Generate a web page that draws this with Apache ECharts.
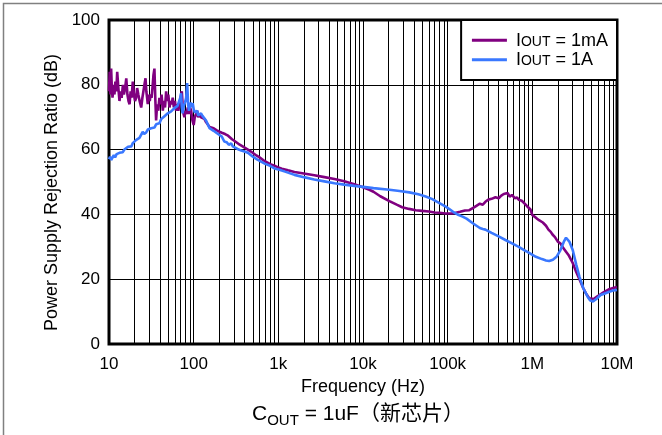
<!DOCTYPE html>
<html>
<head>
<meta charset="utf-8">
<script src="https://cdn.jsdelivr.net/npm/echarts@6/dist/echarts.min.js"></script>
<style>
html,body{margin:0;padding:0;background:#fff;}
#chart{width:662px;height:435px;}
</style>
</head>
<body>
<div id="chart"></div>
<script>
// ---- data (frequency in Hz, PSRR in dB) ----
const xTickLabels = ['10', '100', '1k', '10k', '100k', '1M', '10M'];
const yTicks = [0, 20, 40, 60, 80, 100];
const minorMultipliers = [2, 3, 4, 5, 6, 7, 8, 9];
const decades = [10, 100, 1000, 10000, 100000, 1000000];

const iout1mA = [
[10,78],[10.2,84],[10.4,77],[10.6,85],[10.8,79],[11,76],[11.3,80],[11.6,77],[11.9,81],[12.2,78],[12.5,84],[12.9,79],[13.3,75],[13.7,78],[14.1,76],[14.6,80],[15,77],[15.5,79],[16,82],[16.5,77],[17,75],[17.5,74],[18,78],[18.5,76],[19.1,81],[19.7,77],[20.3,75],[20.9,76],[21.5,79],[22.2,77],[23,75],[24,73],[24.8,76],[25.5,78],[26.2,80],[27,82],[27.6,78],[28.2,76],[28.7,74],[29.5,77],[30.3,75],[31,77],[31.8,76],[32.6,79],[33.5,83],[34.4,85],[35.2,76],[36,69],[37,74],[38.2,72],[39.4,76],[40.6,74],[41.8,77],[43.2,72],[44.5,75],[45.9,73],[47.3,78],[48.7,75],[50.2,77],[51.8,73],[53.4,75],[55,74],[56.6,76],[58.3,73],[60.1,75],[62,72],[63.9,74],[65.9,72],[67.9,74],[70.1,76],[72.4,78],[74.5,73],[76,71],[77.8,70],[79.8,72],[82.5,71],[85.2,73],[88,71],[90.6,73],[93.3,72],[96.7,69],[100,67.6],[103,70],[106.7,71],[110,72],[113,70],[117,71],[122,70],[128,70.5],[134,69.5],[140,68.5],[147,68],[154,67],[162,66.8],[172,66.6],[185,66],[202,65.5],[215,65.2],[235,64.8],[255,64.3],[284,63.2],[310,62.5],[350,61.5],[400,60.6],[437,60],[475,59.4],[550,58.2],[600,57.6],[685,56.5],[800,55.5],[900,55],[980,54.6],[1100,54.1],[1300,53.6],[1550,53.1],[2000,52.6],[2660,52.1],[3500,51.5],[4600,50.9],[6000,50.2],[7900,49.3],[10000,48.4],[11900,47.6],[13300,47],[16000,45.6],[20500,44.1],[25000,43],[29000,42.2],[35000,41.7],[42000,41.3],[50000,41.1],[60000,40.9],[70000,40.6],[80000,40.5],[95000,40.3],[110000,40.3],[122000,40.4],[140000,40.8],[160000,41.2],[180000,41.3],[200000,42],[214000,42.5],[240000,43.3],[260000,43],[279000,43.9],[300000,44.5],[330000,44.8],[367000,45.3],[400000,45],[430000,45.8],[460000,46.3],[481000,46],[510000,46.6],[540000,45.5],[575000,46],[620000,45],[660000,45.2],[691000,44.5],[750000,44.2],[800000,43.5],[862000,42.6],[906000,42.9],[950000,41.5],[1000000,39.8],[1100000,39],[1200000,38.2],[1330000,37.5],[1450000,36.5],[1550000,35.3],[1650000,34.6],[1730000,33.8],[1850000,33],[2000000,31.6],[2150000,31],[2300000,29.8],[2500000,28.5],[2700000,27.3],[3000000,25],[3300000,22.2],[3600000,20],[4000000,17.2],[4300000,15.6],[4700000,14.1],[4950000,13.6],[5300000,13.9],[5800000,14.6],[6200000,15.1],[7000000,16],[8100000,16.9],[9000000,17.3],[10000000,17.6]
];

const iout1A = [
[10,57],[10.3,57.8],[10.6,56.8],[11,57.5],[11.4,58.3],[11.8,57.6],[12.3,58.6],[12.8,58.2],[13.3,59],[13.9,59.6],[14.5,59.2],[15.2,60],[16,60.4],[16.8,60.9],[17.6,61.2],[18.4,61],[19.1,62],[20,62.3],[21,63],[21.9,62.6],[22.9,63.6],[24,64.2],[25,65.5],[26,64.8],[27.5,65.3],[28.8,66.2],[30.2,65.8],[31.5,66.6],[32.9,67.2],[34.4,66.8],[36,67.8],[37.7,68.3],[39.4,68.1],[41.3,69.4],[43.2,69],[45.2,70.3],[47.3,70.2],[49.5,71.2],[51.8,70.6],[54.2,71.8],[56.6,71.7],[59.2,72.8],[62,72.4],[64.5,73.5],[67,74],[69.5,76],[71,77.4],[72.5,73],[74,71.2],[76.5,73.5],[79,74.5],[81.5,76],[83.8,80.5],[86,74],[88,72],[90,72.2],[92.5,74.5],[95,73.2],[97.5,74.3],[100,72.5],[103,71.5],[106,71.2],[110,72],[113,70.5],[117,70.7],[122,71.2],[127,70.4],[133,70.7],[140,69],[147,68.5],[154,66.6],[162,67],[172,65.8],[185,65.2],[202,64.5],[215,64],[230,62.5],[245,62.3],[260,61.5],[277,61.9],[290,61],[302,60.9],[330,60.2],[365,59.7],[398,59.4],[437,59],[500,57.8],[560,57],[625,56.3],[700,55.6],[800,55],[899,54.2],[1030,53.8],[1200,53.2],[1550,52.2],[2000,51.5],[2660,50.8],[3500,50.2],[4600,49.6],[6000,49.2],[7900,48.8],[10000,48.5],[13300,48.1],[20500,47.6],[27000,47.2],[35300,46.8],[45000,46.2],[55000,45.5],[65000,44.8],[80000,43.5],[95000,42.4],[116000,40.8],[135000,39.8],[150000,39.3],[167000,38.7],[200000,37.2],[240000,35.8],[260000,35.5],[279000,35.3],[330000,34.3],[400000,33.2],[481000,32.1],[600000,30.8],[691000,30],[800000,29],[906000,28.2],[1100000,26.9],[1300000,26.2],[1450000,25.8],[1580000,25.6],[1750000,26],[1930000,26.9],[2150000,29],[2350000,31.5],[2500000,32.8],[2600000,32.6],[2750000,31.5],[3000000,29],[3300000,24.5],[3600000,20.8],[4000000,17.2],[4500000,14.6],[4800000,13.5],[5200000,13.1],[5700000,13.9],[6400000,15.1],[7200000,15.6],[8100000,16.1],[9000000,16.5],[10000000,16.7]
];

const seriesNames = ['IOUT = 1mA', 'IOUT = 1A'];
const legendTexts = {'IOUT = 1mA': '{f|I}{s|OUT}{m| = 1mA}', 'IOUT = 1A': '{f|I}{s|OUT}{m| = 1A}'};

// minor grid positions for the log axis (2..9 within each decade)
const minorTicks = [];
decades.forEach(d => minorMultipliers.forEach(m => minorTicks.push(d * m)));

const FONT = '"Liberation Sans", Arial, Helvetica, sans-serif';
const CJK = '"Liberation Sans", Arial, "Noto Sans CJK SC", sans-serif';

const chart = echarts.init(document.getElementById('chart'), null, {renderer: 'canvas'});
chart.setOption({
  animation: false,
  backgroundColor: '#fff',
  textStyle: {fontFamily: FONT, color: '#000'},
  grid: {left: 109, top: 20, width: 508, height: 324, show: true, borderColor: '#000', borderWidth: 3, backgroundColor: 'transparent'},
  title: {
    text: '{a|C}{b|OUT}{a| = 1uF（新芯片）}',
    left: 252, top: 404, padding: 0,
    textStyle: {
      fontFamily: CJK, fontWeight: 'normal',
      rich: {
        a: {fontFamily: CJK, fontSize: 21, fontWeight: 'normal', lineHeight: 24, verticalAlign: 'top', color: '#000'},
        b: {fontFamily: FONT, fontSize: 15, fontWeight: 'normal', lineHeight: 12, verticalAlign: 'bottom', color: '#000'}
      }
    }
  },
  legend: {
    data: seriesNames,
    orient: 'vertical',
    right: 45, top: 20,
    icon: 'rect',
    itemWidth: 35, itemHeight: 3, itemGap: 1.4,
    padding: [11.8, 9, 10.8, 10.8],
    backgroundColor: '#fff', borderColor: '#000', borderWidth: 2, borderRadius: 0,
    formatter: name => legendTexts[name],
    textStyle: {
      rich: {
        f: {fontFamily: FONT, fontSize: 18, lineHeight: 17, verticalAlign: 'top', color: '#000', padding: [0, 0, 0, 4]},
        m: {fontFamily: FONT, fontSize: 18, lineHeight: 17, verticalAlign: 'top', color: '#000'},
        s: {fontFamily: FONT, fontSize: 14, lineHeight: 11, verticalAlign: 'bottom', color: '#000'}
      }
    }
  },
  xAxis: {
    type: 'log', logBase: 10, min: 10, max: 10000000,
    name: 'Frequency (Hz)', nameLocation: 'middle', nameGap: 28,
    nameTextStyle: {fontSize: 18, color: '#000', fontFamily: FONT},
    axisLine: {show: false}, axisTick: {show: false},
    axisLabel: {
      fontSize: 17, color: '#000', margin: 12, fontFamily: FONT,
      formatter: v => xTickLabels[Math.round(Math.log10(v)) - 1]
    },
    splitLine: {show: true, lineStyle: {color: '#000', width: 1}}
  },
  yAxis: {
    type: 'value', min: yTicks[0], max: yTicks[yTicks.length - 1], interval: 20,
    name: 'Power Supply Rejection Ratio (dB)', nameLocation: 'middle', nameGap: 48,
    nameTextStyle: {fontSize: 18, color: '#000', fontFamily: FONT, padding: [0, 21, 0, 0]},
    axisLine: {show: false}, axisTick: {show: false},
    axisLabel: {fontSize: 17, color: '#000', margin: 9, fontFamily: FONT},
    splitLine: {show: true, lineStyle: {color: '#000', width: 1}}
  },
  graphic: [{
    type: 'polyline', silent: true, z: 100,
    shape: {points: [[3.5, 435], [3.5, 3.5], [662, 3.5]]},
    style: {stroke: '#808080', lineWidth: 1.5, fill: null}
  }],
  series: [
    {
      name: 'minor-grid', type: 'line', data: [[10, 0]], symbol: 'none', z: 1,
      lineStyle: {opacity: 0}, silent: true,
      markLine: {
        silent: true, z: 1, symbol: ['none', 'none'], label: {show: false},
        lineStyle: {color: '#000', width: 1, type: 'solid', opacity: 1},
        emphasis: {disabled: true},
        data: minorTicks.map(v => ({xAxis: v}))
      }
    },
    {
      name: seriesNames[0], type: 'line', data: iout1mA, symbol: 'none', z: 3,
      lineStyle: {color: '#800080', width: 2.6}, itemStyle: {color: '#800080'}
    },
    {
      name: seriesNames[1], type: 'line', data: iout1A, symbol: 'none', z: 4,
      lineStyle: {color: '#3a78ff', width: 2.6}, itemStyle: {color: '#3a78ff'}
    }
  ]
});
</script>
</body>
</html>
